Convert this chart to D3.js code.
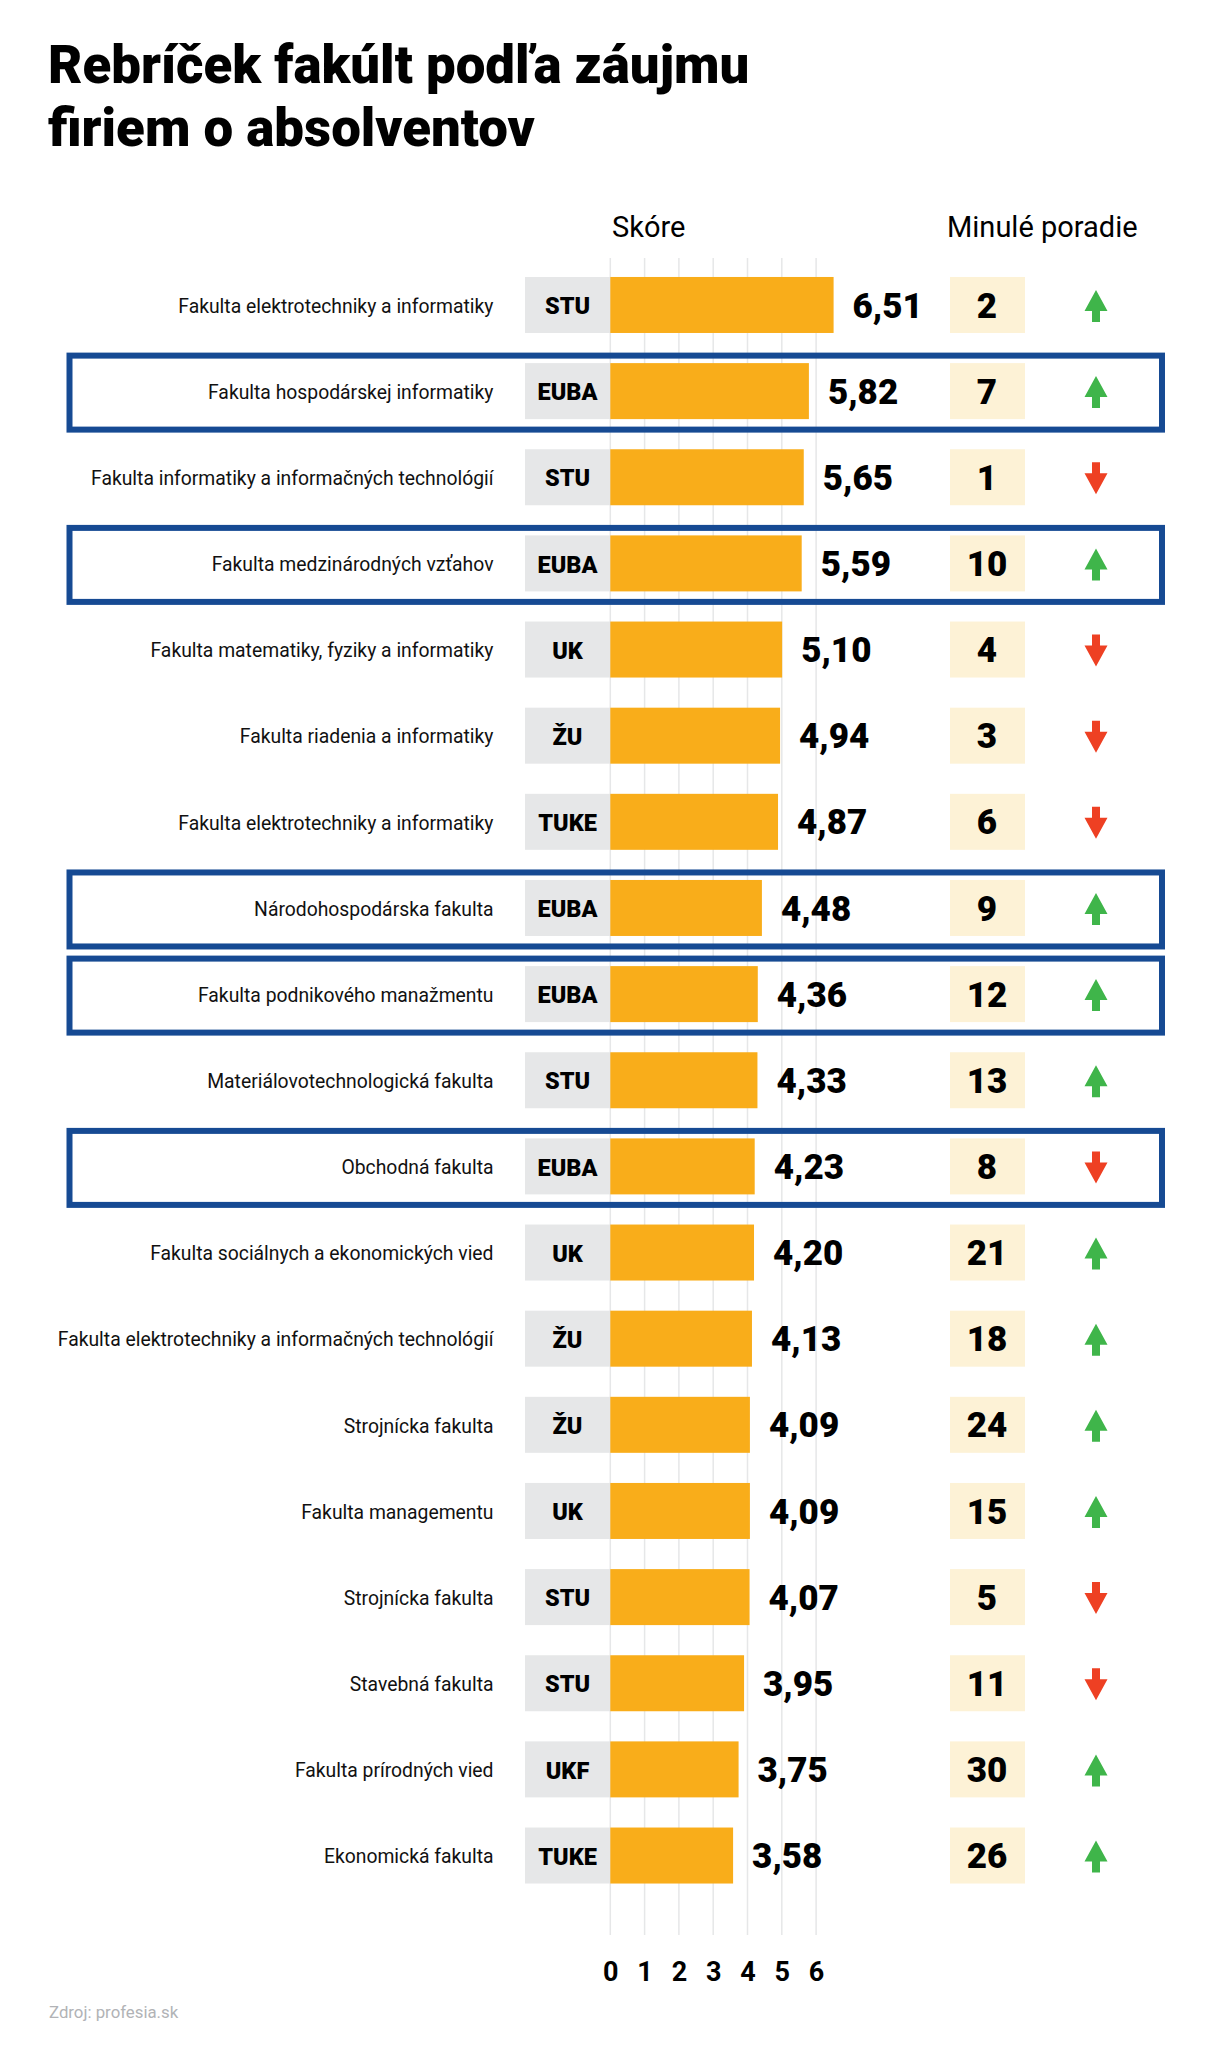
<!DOCTYPE html>
<html>
<head>
<meta charset="utf-8">
<script src="https://cdn.jsdelivr.net/npm/d3@7"></script>
<style>
    body { margin: 0; background: #fff; }
    text { font-family: Roboto, sans-serif; }
</style>
</head>
<body>
<div id="chart"></div>
<script>
// Data
var faculties = [
    'Fakulta elektrotechniky a informatiky', 'Fakulta hospodárskej informatiky',
    'Fakulta informatiky a informačných technológií', 'Fakulta medzinárodných vzťahov',
    'Fakulta matematiky, fyziky a informatiky', 'Fakulta riadenia a informatiky',
    'Fakulta elektrotechniky a informatiky', 'Národohospodárska fakulta',
    'Fakulta podnikového manažmentu', 'Materiálovotechnologická fakulta',
    'Obchodná fakulta', 'Fakulta sociálnych a ekonomických vied',
    'Fakulta elektrotechniky a informačných technológií', 'Strojnícka fakulta',
    'Fakulta managementu', 'Strojnícka fakulta', 'Stavebná fakulta',
    'Fakulta prírodných vied', 'Ekonomická fakulta'
];
var schools = ['STU', 'EUBA', 'STU', 'EUBA', 'UK', 'ŽU', 'TUKE', 'EUBA', 'EUBA', 'STU',
    'EUBA', 'UK', 'ŽU', 'ŽU', 'UK', 'STU', 'STU', 'UKF', 'TUKE'];
// Printed scores
var scores = [6.51, 5.82, 5.65, 5.59, 5.10, 4.94, 4.87, 4.48, 4.36, 4.33,
    4.23, 4.20, 4.13, 4.09, 4.09, 4.07, 3.95, 3.75, 3.58];
// Bar lengths as drawn in the picture, they differ a little from the printed scores
var barLengths = [6.51, 5.79, 5.64, 5.58, 5.01, 4.95, 4.89, 4.42, 4.30, 4.29,
    4.21, 4.19, 4.13, 4.07, 4.07, 4.06, 3.90, 3.74, 3.58];
var previous = [2, 7, 1, 10, 4, 3, 6, 9, 12, 13, 8, 21, 18, 24, 15, 5, 11, 30, 26];
var trends = ['up', 'up', 'down', 'up', 'down', 'down', 'down', 'up', 'up', 'up',
    'down', 'up', 'up', 'up', 'up', 'down', 'down', 'up', 'up'];
var ticks = [0, 1, 2, 3, 4, 5, 6];
var titleLines = ['Rebríček fakúlt podľa záujmu', 'firiem o absolventov'];

var width = 1208, height = 2048;
var rows = d3.range(faculties.length);
var comma = d3.format('.2f');

var svg = d3.select('#chart').append('svg').attr('width', width).attr('height', height);

// Scales
var x = d3.scaleLinear().domain([0, 6]).range([610.3, 816.1]);
var y = d3.scaleBand().domain(rows).range([261.9, 1898.6]);
var cardH = 56;

// Title
svg.selectAll('.title').data(titleLines).enter().append('text')
    .attr('class', 'title')
    .attr('x', 48)
    .attr('y', (d, i) => 82.5 + i * 63)
    .attr('font-size', 52.8)
    .attr('font-weight', 900)
    .attr('fill', '#000')
    .text((d) => d);

// Column headers
svg.append('text').attr('x', 612).attr('y', 237).attr('font-size', 29).text('Skóre');
svg.append('text').attr('x', 947).attr('y', 237).attr('font-size', 29).text('Minulé poradie');

// Grid and axis
svg.selectAll('.grid').data(ticks).enter().append('line')
    .attr('class', 'grid')
    .attr('x1', (d) => x(d)).attr('x2', (d) => x(d))
    .attr('y1', 258).attr('y2', 1935)
    .attr('stroke', '#e6e7e8').attr('stroke-width', 1.5);
var axis = svg.append('g')
    .attr('transform', 'translate(0,1935)')
    .call(d3.axisBottom(x).tickValues(ticks).tickFormat(d3.format('d')).tickSize(0).tickPadding(27));
axis.select('.domain').remove();
axis.selectAll('text').attr('font-size', 27).attr('font-weight', 700).attr('font-family', 'Roboto').attr('fill', '#000');

var row = svg.selectAll('.row').data(rows).enter().append('g')
    .attr('class', 'row')
    .attr('transform', (i) => 'translate(0,' + (y(i) + y.bandwidth() / 2) + ')');

// Highlight frames for EUBA
row.filter((i) => schools[i] === 'EUBA').append('rect')
    .attr('x', 69.5).attr('y', -35.5)
    .attr('width', 1092.5).attr('height', 74)
    .attr('fill', 'none')
    .attr('stroke', '#164a93').attr('stroke-width', 6);

row.append('text')
    .attr('x', 493.5).attr('y', 1).attr('dy', '.35em')
    .attr('text-anchor', 'end')
    .attr('font-size', 19.33)
    .attr('fill', '#111')
    .text((i) => faculties[i]);

row.append('rect')
    .attr('x', 525).attr('y', -cardH / 2)
    .attr('width', x(0) - 525).attr('height', cardH)
    .attr('fill', '#e6e7e8');

row.append('text')
    .attr('x', 567.5).attr('y', 1).attr('dy', '.35em')
    .attr('text-anchor', 'middle')
    .attr('font-size', 23.5).attr('font-weight', 900)
    .text((i) => schools[i]);

// Bars
row.append('rect')
    .attr('x', x(0)).attr('y', -cardH / 2)
    .attr('width', (i) => x(barLengths[i]) - x(0)).attr('height', cardH)
    .attr('fill', '#f9ad1a');

row.append('text')
    .attr('x', (i) => x(barLengths[i]) + 19).attr('dy', '.36em')
    .attr('font-size', 35).attr('font-weight', 900)
    .text((i) => comma(scores[i]).replace('.', ','));

// Previous rank
row.append('rect')
    .attr('x', 950).attr('y', -cardH / 2)
    .attr('width', 75).attr('height', cardH)
    .attr('fill', '#fdf2d6');

row.append('text')
    .attr('x', 987).attr('dy', '.36em')
    .attr('text-anchor', 'middle')
    .attr('font-size', 35).attr('font-weight', 900)
    .text((i) => previous[i]);

// Arrows
row.append('path')
    .attr('d', 'M0,-16L11.5,5H4V16H-4V5H-11.5Z')
    .attr('transform', (i) => 'translate(1096,1)' + (trends[i] === 'up' ? '' : ' rotate(180)'))
    .attr('fill', (i) => (trends[i] === 'up' ? '#3fb54a' : '#ee4023'));

// Source
svg.append('text').attr('x', 49).attr('y', 2018).attr('font-size', 16.8).attr('fill', '#b1b3b6').text('Zdroj: profesia.sk');
</script>
</body>
</html>
